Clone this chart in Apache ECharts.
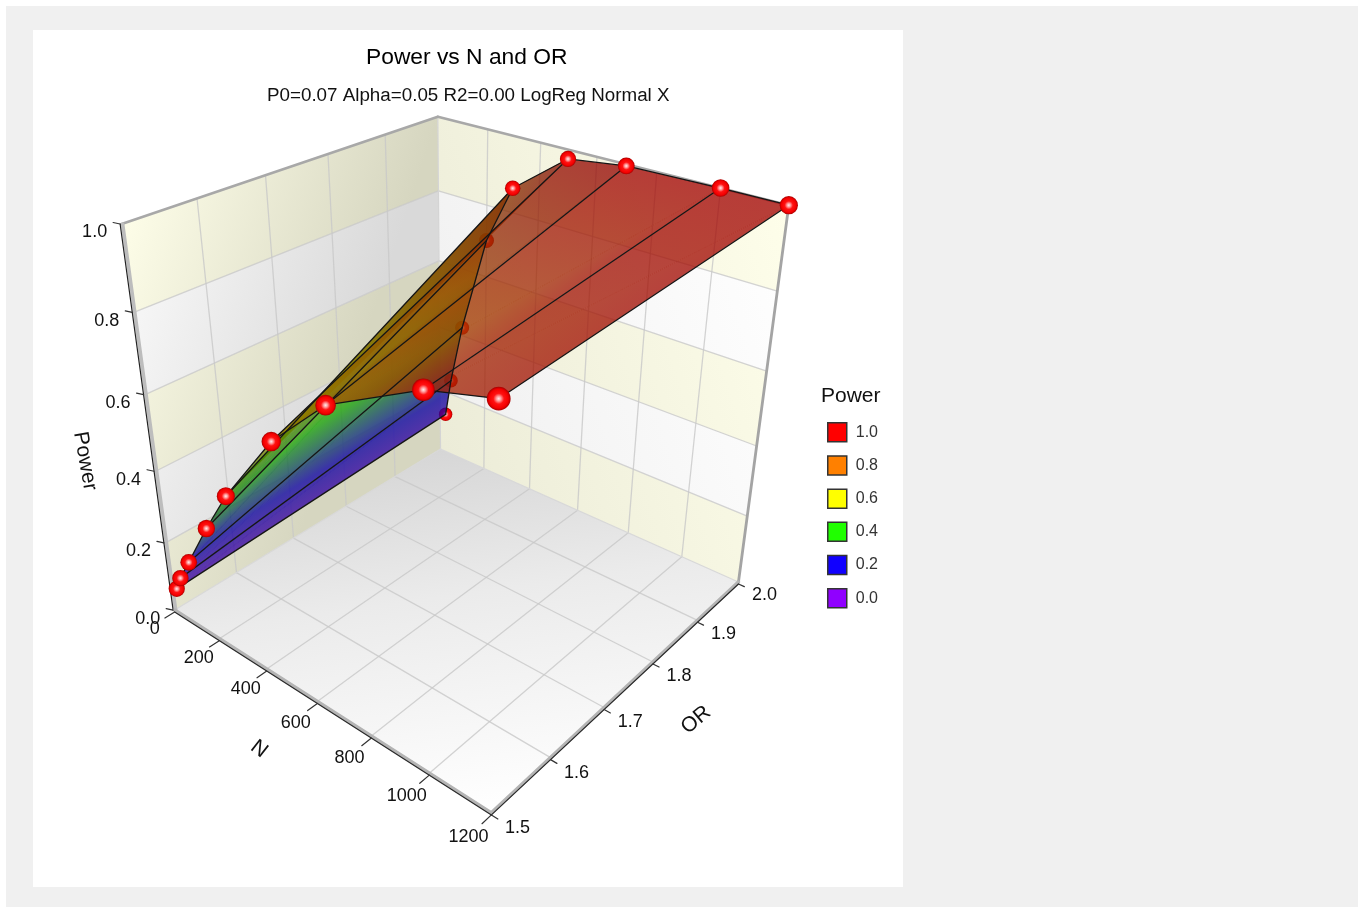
<!DOCTYPE html>
<html><head><meta charset="utf-8">
<script src="https://cdn.jsdelivr.net/npm/echarts@6/dist/echarts.min.js"></script>
<style>html,body{margin:0;padding:0;background:#fff}#c{width:1359px;height:907px}</style></head>
<body><div id="c"></div>
<script>
// ---- data ----
const nValues=[25,50,100,200,300,500,700,1000,1200];
const orValues=[1.5,2.0];
const powerAtLowOR=[0.075,0.117,0.183,0.316,0.438,0.640,0.784,0.905,0.947];
const powerAtHighOR=[0.126,0.244,0.424,0.703,0.865,0.977,0.996,1.000,1.000];
const nTicks=[0,200,400,600,800,1000,1200];
const orTicks=[1.5,1.6,1.7,1.8,1.9,2.0];
const powerTicks=[0,0.2,0.4,0.6,0.8,1.0];
const legendLabels=['1.0','0.8','0.6','0.4','0.2','0.0'];
const legendColors=['#ff0000','#ff8000','#ffff00','#20ff00','#1000ff','#9000ff'];

// ---- camera: fitted to where the box corners and grid lines fall ----
const anchors=[
[0,1.5,1,120,224],[0,2,1,437,117],[1200,2,1,789,205],[0,1.5,0,175,612],[0,2,0,440,448],[1200,2,0,740,581],[1200,1.5,0,493,812],
[0,1.5,.8,133,313],[0,1.5,.6,145,394],[0,1.5,.4,156,471],[0,1.5,.2,166,543],
[0,1.6,1,198,198],[0,1.7,1,267,174],[0,1.8,1,328,154],[0,1.9,1,385,135],
[200,2,1,488,130],[400,2,1,541,143],[600,2,1,597,157],[800,2,1,657,172],[1000,2,1,720,188],
[1200,1.6,0,550,759],[1200,1.7,0,604,708],[1200,1.8,0,652,663],[1200,1.9,0,697,621],[1000,1.5,0,428,771]];
function solve(A,b){const n=b.length;for(let i=0;i<n;i++){let m=i;for(let r=i+1;r<n;r++)if(Math.abs(A[r][i])>Math.abs(A[m][i]))m=r;[A[i],A[m]]=[A[m],A[i]];[b[i],b[m]]=[b[m],b[i]];for(let r=i+1;r<n;r++){const f=A[r][i]/A[i][i];for(let c=i;c<n;c++)A[r][c]-=f*A[i][c];b[r]-=f*b[i];}}const x=Array(n).fill(0);for(let i=n-1;i>=0;i--){let s=b[i];for(let c=i+1;c<n;c++)s-=A[i][c]*x[c];x[i]=s/A[i][i];}return x;}
function fit(){const rows=[],rhs=[];anchors.forEach(a=>{const X=a[0]/1200,Y=(a[1]-1.5)/.5,Z=a[2],x=a[3]/1000,y=a[4]/1000;rows.push([X,Y,Z,1,0,0,0,0,-x*X,-x*Y,-x*Z]);rhs.push(x);rows.push([0,0,0,0,X,Y,Z,1,-y*X,-y*Y,-y*Z]);rhs.push(y);});
const n=11,A=[],b=[];for(let i=0;i<n;i++){A.push(Array(n).fill(0));b.push(0);for(let j=0;j<n;j++)rows.forEach(r=>A[i][j]+=r[i]*r[j]);rows.forEach((r,k)=>b[i]+=r[i]*rhs[k]);}return solve(A,b);}
const m=fit();
function proj(N,O,P){const X=N/1200,Y=(O-1.5)/.5,Z=P,w=m[8]*X+m[9]*Y+m[10]*Z+1;return [1000*(m[0]*X+m[1]*Y+m[2]*Z+m[3])/w,1000*(m[4]*X+m[5]*Y+m[6]*Z+m[7])/w,w];}

// ---- helpers ----
const FONT='"Liberation Sans",Arial,sans-serif';
const G=echarts.graphic;
function pt(api,N,O,P,dx,dy){const p=proj(N,O,P),c=api.coord([p[0],p[1]]);return [c[0]+(dx||0),c[1]+(dy||0)];}
function seg(a,b,stroke,width){return {type:'line',shape:{x1:a[0],y1:a[1],x2:b[0],y2:b[1]},style:{stroke,lineWidth:width,lineCap:'round'},silent:true};}
function poly(points,fill){return {type:'polygon',shape:{points},style:{fill},silent:true};}
function label(text,p,size,rot,fill){return {type:'text',x:p[0],y:p[1],rotation:(rot||0)*Math.PI/180,style:{text,x:0,y:0,font:size+'px '+FONT,fill:fill||'#111',align:'center',verticalAlign:'middle'},silent:true};}
function ramp(a,b,stops){return new G.LinearGradient(a[0],a[1],b[0],b[1],stops.map(s=>({offset:s[0],color:s[1]})),true);}

const heat=[[0,[144,0,255]],[.2,[16,0,255]],[.4,[32,255,0]],[.6,[255,255,0]],[.8,[255,128,0]],[1,[255,0,0]]];
const SHADE=.63,ALPHA=.76;
function heatColor(p,shade){p=Math.min(1,Math.max(0,p));let i=0;while(i<heat.length-2&&p>heat[i+1][0])i++;const a=heat[i],b=heat[i+1],t=(p-a[0])/(b[0]-a[0]);
 const c=a[1].map((v,k)=>Math.round((v+(b[1][k]-v)*t)*shade));return 'rgba('+c.join(',')+','+ALPHA+')';}
function triangle(pts,ps,shade,shift){
 // shift: small push across the shared diagonal, so the two triangles of a quad meet without a light seam
 const [A,B,C]=pts,[pa,pb,pc]=ps;
 const drawn=pts.map((q,i)=>shift[i]?[q[0]+shift[i][0],q[1]+shift[i][1]]:q);
 const det=(B[0]-A[0])*(C[1]-A[1])-(C[0]-A[0])*(B[1]-A[1]);
 const lo=Math.min(pa,pb,pc),hi=Math.max(pa,pb,pc);
 if(Math.abs(det)<1e-6||hi-lo<1e-4)return poly(drawn,heatColor((pa+pb+pc)/3,shade));
 const gx=((pb-pa)*(C[1]-A[1])-(pc-pa)*(B[1]-A[1]))/det;
 const gy=((pc-pa)*(B[0]-A[0])-(pb-pa)*(C[0]-A[0]))/det;
 const g2=gx*gx+gy*gy;const S=ps[0]===lo?A:ps[1]===lo?B:C;
 const E=[S[0]+gx*(hi-lo)/g2,S[1]+gy*(hi-lo)/g2];
 const stops=[[0,heatColor(lo,shade)]];
 heat.forEach(h=>{if(h[0]>lo&&h[0]<hi)stops.push([(h[0]-lo)/(hi-lo),heatColor(h[0],shade)]);});
 stops.push([1,heatColor(hi,shade)]);
 return poly(drawn,ramp(S,E,stops));
}
const nMax=1200,orMin=1.5,orMax=2;

// ---- layers ----
function renderBox(params,api){
 const c=[];
 c.push({type:'rect',shape:{x:6,y:6,width:1352,height:901},style:{fill:'#f0f0f0'},silent:true});
 c.push({type:'rect',shape:{x:33,y:30,width:870,height:857},style:{fill:'#ffffff'},silent:true});
 // floor
 const f=[pt(api,0,orMin,0),pt(api,nMax,orMin,0),pt(api,nMax,orMax,0),pt(api,0,orMax,0)];
 c.push(poly(f,ramp(f[1],f[3],[[0,'#ffffff'],[.6,'#ebebeb'],[1,'#d6d6d6']])));
 // walls, banded; the light falls from the upper left on one wall and the upper right on the other
 const L0=pt(api,0,orMin,1),L1=[L0[0]+254,L0[1]+84],R0=pt(api,nMax,orMax,1),R1=[R0[0]-640,R0[1]+215];
 for(let i=0;i<powerTicks.length-1;i++){
  const lo=powerTicks[i],hi=powerTicks[i+1],cream=i%2===0;
  c.push(poly([pt(api,0,orMin,lo),pt(api,0,orMax,lo),pt(api,0,orMax,hi),pt(api,0,orMin,hi)],
    ramp(L0,L1,cream?[[0,'#fdfde8'],[1,'#d6d6c0']]:[[0,'#fbfbfb'],[1,'#d9d9d9']])));
  c.push(poly([pt(api,0,orMax,lo),pt(api,nMax,orMax,lo),pt(api,nMax,orMax,hi),pt(api,0,orMax,hi)],
    ramp(R0,R1,cream?[[0,'#fefeea'],[1,'#e0e0cc']]:[[0,'#ffffff'],[1,'#e6e6e6']])));
 }
 // grid
 const gc='rgba(200,200,200,.8)',gw=1.3;
 powerTicks.slice(1,-1).forEach(p=>{c.push(seg(pt(api,0,orMin,p),pt(api,0,orMax,p),gc,gw));c.push(seg(pt(api,0,orMax,p),pt(api,nMax,orMax,p),gc,gw));});
 orTicks.slice(1,-1).forEach(o=>{c.push(seg(pt(api,0,o,0),pt(api,0,o,1),gc,gw));c.push(seg(pt(api,0,o,0),pt(api,nMax,o,0),gc,gw));});
 nTicks.slice(1,-1).forEach(n=>{c.push(seg(pt(api,n,orMax,0),pt(api,n,orMax,1),gc,gw));c.push(seg(pt(api,n,orMin,0),pt(api,n,orMax,0),gc,gw));});
 c.push(seg(pt(api,0,orMax,0),pt(api,0,orMax,1),'#d4d4d4',1.2));
 c.push(seg(pt(api,0,orMin,0),pt(api,0,orMax,0),'#d8d8d8',1.2));
 c.push(seg(pt(api,0,orMax,0),pt(api,nMax,orMax,0),'#d8d8d8',1.2));
 // frame
 c.push(seg(pt(api,0,orMin,1),pt(api,0,orMax,1),'#a8a8a8',2.6));
 c.push(seg(pt(api,0,orMax,1),pt(api,nMax,orMax,1),'#a8a8a8',2.6));
 c.push(seg(pt(api,nMax,orMax,1),pt(api,nMax,orMax,0),'#a4a4a4',2.8));
 c.push(seg(pt(api,0,orMin,1,1,0),pt(api,0,orMin,0,1,0),'#bdbdbd',3.6));
 c.push(seg(pt(api,0,orMin,1,-1.5,0),pt(api,0,orMin,0,-1.5,0),'#222',1.2));
 c.push(seg(pt(api,0,orMin,0),pt(api,nMax,orMin,0),'#b4b4b4',3.6));
 c.push(seg(pt(api,nMax,orMin,0),pt(api,nMax,orMax,0),'#b4b4b4',3.6));
 c.push(seg(pt(api,0,orMin,0,0,2),pt(api,nMax,orMin,0,0,2),'#2a2a2a',1.2));
 c.push(seg(pt(api,nMax,orMin,0,0,2),pt(api,nMax,orMax,0,0,2),'#2a2a2a',1.2));
 // ticks and labels
 nTicks.forEach(n=>{c.push(seg(pt(api,n,orMin,0,0,2),pt(api,n,orMin-.015,0,0,2),'#333',1.2));
   const t=n/nMax;c.push(label(String(n),pt(api,n,orMin,0,-20-3*t,18.5+5.5*t),18));});
 orTicks.forEach(o=>{c.push(seg(pt(api,nMax,o,0,0,2),pt(api,nMax+20,o,0,0,2),'#333',1.2));
   c.push(label(o.toFixed(1),pt(api,nMax,o,0,26,15.5-(o-orMin)*5),18));});
 powerTicks.forEach(p=>{const a=pt(api,0,orMin,p,-1.5,0);c.push(seg(a,[a[0]-7,a[1]-1.5],'#333',1.2));
   c.push(label(p.toFixed(1),pt(api,0,orMin,p,-27,8.5),18));});
 // axis names
 c.push(label('N',[259,749],21,-38));
 c.push(label('OR',[696,720],21,40));
 c.push(label('Power',[85,461],21,-80));
 return {type:'group',children:c};
}
function renderStrip(params,api){
 const i=api.value(0),n0=nValues[i],n1=nValues[i+1],f0=powerAtLowOR[i],f1=powerAtLowOR[i+1],b0=powerAtHighOR[i],b1=powerAtHighOR[i+1];
 const F0=pt(api,n0,orValues[0],f0),F1=pt(api,n1,orValues[0],f1),B0=pt(api,n0,orValues[1],b0),B1=pt(api,n1,orValues[1],b1);
 const shade=(i>=3&&i<=4)?.52:(i===5?.58:SHADE);
 const dx=B1[0]-F0[0],dy=B1[1]-F0[1],d=Math.hypot(dx,dy)||1;
 let nx=-dy/d*.15,ny=dx/d*.15;
 if(nx*(F1[0]-F0[0])+ny*(F1[1]-F0[1])>0){nx=-nx;ny=-ny;} // nx,ny now points away from F1, towards B0
 const up=[nx,ny],dn=[-nx,-ny];
 return {type:'group',children:[
  triangle([F0,F1,B1],[f0,f1,b1],shade,[up,null,up]),
  triangle([F0,B1,B0],[f0,b1,b0],shade,[dn,dn,null])]};
}
function renderRib(params,api){
 const a=pt(api,api.value(0),orValues[0],api.value(1)),b=pt(api,api.value(0),orValues[1],api.value(2));
 return seg(a,b,'#151515',1.3);
}
function renderEdge(params,api){
 const i=api.value(0);
 return {type:'group',children:[
  seg(pt(api,nValues[i],orValues[0],powerAtLowOR[i]),pt(api,nValues[i+1],orValues[0],powerAtLowOR[i+1]),'#151515',1.3),
  seg(pt(api,nValues[i],orValues[1],powerAtHighOR[i]),pt(api,nValues[i+1],orValues[1],powerAtHighOR[i+1]),'#151515',1.3)]};
}
const ballFill=new G.RadialGradient(.5,.5,.5,[{offset:0,color:'#ffecec'},{offset:.2,color:'#ff9a9a'},{offset:.45,color:'#ff1212'},{offset:.8,color:'#f40000'},{offset:1,color:'#a80000'}]);
function renderBall(params,api){
 const p=proj(api.value(0),api.value(1),api.value(2)),c=api.coord([p[0],p[1]]);
 return {type:'circle',shape:{cx:c[0],cy:c[1],r:8/p[2]},style:{fill:ballFill},silent:true};
}
const frontPts=nValues.map((n,i)=>[n,orValues[0],powerAtLowOR[i]]);
const backPts=nValues.map((n,i)=>[n,orValues[1],powerAtHighOR[i]]);
const base={type:'custom',coordinateSystem:'cartesian2d',animation:false,clip:false,silent:true};
const stripIdx=nValues.slice(0,-1).map((_,i)=>[i]);
const series=[
 Object.assign({},base,{name:'box',renderItem:renderBox,data:[[0]],z:1}),
 Object.assign({},base,{name:'backBallsBelow',renderItem:renderBall,data:backPts.slice(0,4),z:2}),
 Object.assign({},base,{name:'surface',renderItem:renderStrip,data:stripIdx,z:3}),
 Object.assign({},base,{name:'edges',renderItem:renderEdge,data:stripIdx,z:4}),
 Object.assign({},base,{name:'ribs',renderItem:renderRib,data:nValues.map((n,i)=>[n,powerAtLowOR[i],powerAtHighOR[i]]),z:4}),
 Object.assign({},base,{name:'balls',renderItem:renderBall,data:backPts.slice(4).concat(frontPts),z:5})
];
legendLabels.forEach((l,i)=>series.push({type:'scatter',name:l,data:[],itemStyle:{color:legendColors[i],opacity:1}}));
const ch=echarts.init(document.getElementById('c'));
ch.setOption({
 animation:false,backgroundColor:'#ffffff',
 grid:{left:0,right:0,top:0,bottom:0},
 xAxis:{type:'value',min:0,max:1359,show:false},
 yAxis:{type:'value',min:0,max:907,inverse:true,show:false},
 title:[
  {text:'Power vs N and OR',left:361,top:41,textStyle:{fontFamily:FONT,fontSize:22.8,fontWeight:'normal',color:'#000'}},
  {text:'P0=0.07 Alpha=0.05 R2=0.00 LogReg Normal X',left:262,top:81,textStyle:{fontFamily:FONT,fontSize:18.8,fontWeight:'normal',color:'#111'}},
  {text:'Power',left:816,top:381,textStyle:{fontFamily:FONT,fontSize:21,fontWeight:'normal',color:'#111'}}
 ],
 legend:{data:legendLabels,orient:'vertical',left:822,top:417,itemWidth:19,itemHeight:19,itemGap:12.7,icon:'rect',selectedMode:false,
  itemStyle:{borderColor:'#333',borderWidth:1.5,opacity:1},
  textStyle:{fontFamily:FONT,fontSize:16,color:'#333',padding:[0,0,0,4]}},
 series
});
</script></body></html>
